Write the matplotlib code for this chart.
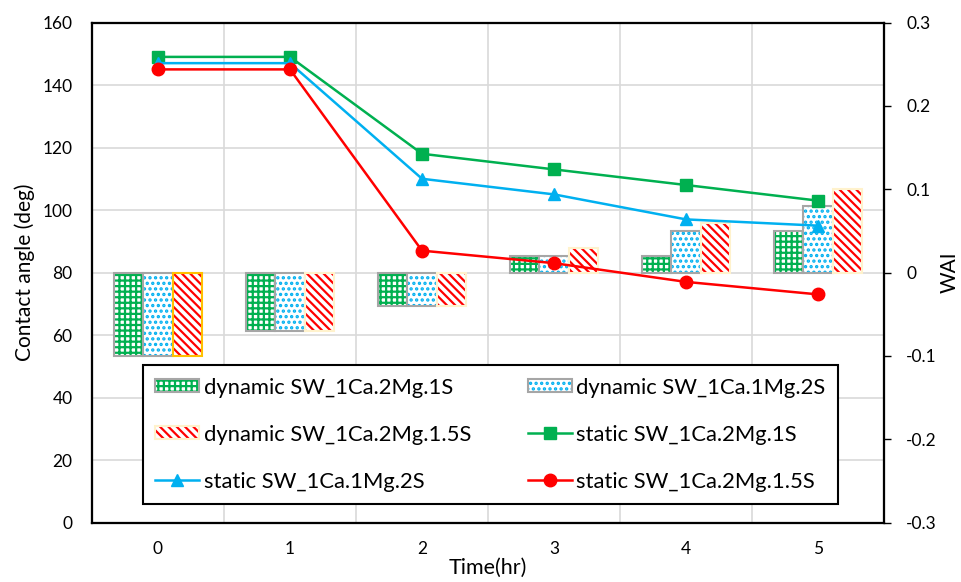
import numpy as np
import matplotlib
matplotlib.use("Agg")
import matplotlib.pyplot as plt
from matplotlib.patches import Patch
from matplotlib.lines import Line2D
from matplotlib.legend_handler import HandlerTuple

plt.rcParams['font.family'] = ['Lato', 'DejaVu Sans']
plt.rcParams['hatch.linewidth'] = 1.6

tiempo = [0, 1, 2, 3, 4, 5]
etiquetas_x = ['0', '1', '2', '3', '4', '5']

# WAI (eje derecho)
wai_1S = [-0.10, -0.07, -0.04, 0.02, 0.02, 0.05]
wai_2S = [-0.10, -0.07, -0.04, 0.02, 0.05, 0.08]
wai_15S = [-0.10, -0.07, -0.04, 0.03, 0.06, 0.10]

# angulo de contacto estatico (eje izquierdo)
est_1S = [149, 149, 118, 113, 108, 103]
est_2S = [147, 147, 110, 105, 97, 95]
est_15S = [145, 145, 87, 83, 77, 73]

verde = '#00B050'
azul = '#00B0F0'
rojo = '#FF0000'
gris = '#A6A6A6'

h_verde = '+++'
h_azul = '...'
h_rojo = '\\\\\\\\'

fig = plt.figure(figsize=(9.62, 5.82), dpi=100)
ax = fig.add_axes([0.0956, 0.1022, 0.8234, 0.8591])
ax2 = ax.twinx()
ax3 = ax.twinx()

# rejilla
ax.set_xlim(-0.5, 5.5)
ax.set_ylim(0, 160)
ax.set_yticks(np.arange(0, 161, 20))
ax.set_xticks(tiempo)
ax.set_xticklabels(etiquetas_x)
ax.set_xticks(np.arange(-0.5, 5.6, 1), minor=True)
ax.grid(True, which='minor', axis='x', color='#D9D9D9', lw=1.2)
ax.grid(True, which='major', axis='y', color='#D9D9D9', lw=1.2)
ax.tick_params(axis='both', which='both', length=0, labelsize=12.5)
ax.tick_params(axis='y', pad=14)
ax.tick_params(axis='x', pad=13)
ax.set_axisbelow(True)
ax.set_ylabel('Contact angle (deg)', fontsize=15, labelpad=5)
ax.set_xlabel('Time(hr)', fontsize=15.5, labelpad=1)

# barras WAI
w = 0.223
x = np.array(tiempo, dtype=float)
ax2.set_ylim(-0.3, 0.3)
ax2.set_yticks(np.arange(-0.3, 0.31, 0.1))
ax2.set_yticklabels(['-0.3', '-0.2', '-0.1', '0', '0.1', '0.2', '0.3'])
ax2.tick_params(axis='y', length=5, width=1, labelsize=12.5, pad=11)
ax2.set_ylabel('WAI', fontsize=15, labelpad=2)

ax2.bar(x - w, wai_1S, w, color='white', edgecolor=verde, hatch=h_verde, lw=0)
ax2.bar(x - w, wai_1S, w, fill=False, edgecolor=gris, lw=1.5)
ax2.bar(x, wai_2S, w, color='white', edgecolor=azul, hatch=h_azul, lw=0)
ax2.bar(x, wai_2S, w, fill=False, edgecolor=gris, lw=1.5)
ax2.bar(x + w, wai_15S, w, color='white', edgecolor=rojo, hatch=h_rojo, lw=0)
bordes_rojo = ['#FFC000'] + ['#FFF2CC'] * 5
ax2.bar(x + w, wai_15S, w, fill=False, edgecolor=bordes_rojo, lw=1.5)

# lineas estaticas
ax3.set_ylim(0, 160)
ax3.set_yticks([])
ax3.plot(tiempo, est_1S, color=verde, lw=1.8, marker='s', ms=8)
ax3.plot(tiempo, est_2S, color=azul, lw=1.8, marker='^', ms=9)
ax3.plot(tiempo, est_15S, color=rojo, lw=1.8, marker='o', ms=9)

for a in (ax, ax2, ax3):
    for s in a.spines.values():
        s.set_linewidth(1.5)
        s.set_color('black')

h1 = (Patch(facecolor='white', edgecolor=verde, hatch=h_verde, lw=0), Patch(fill=False, edgecolor=gris, lw=1.5))
h2 = (Patch(facecolor='white', edgecolor=azul, hatch=h_azul, lw=0), Patch(fill=False, edgecolor=gris, lw=1.5))
h3 = (Patch(facecolor='white', edgecolor=rojo, hatch=h_rojo, lw=0), Patch(fill=False, edgecolor='#FFF2CC', lw=1.5))
h4 = Line2D([], [], color=verde, lw=1.8, marker='s', ms=8)
h5 = Line2D([], [], color=azul, lw=1.8, marker='^', ms=9)
h6 = Line2D([], [], color=rojo, lw=1.8, marker='o', ms=9)

handles = [h1, h3, h5, h2, h4, h6]
labels = ['dynamic SW_1Ca.2Mg.1S', 'dynamic SW_1Ca.2Mg.1.5S', 'static SW_1Ca.1Mg.2S',
          'dynamic SW_1Ca.1Mg.2S', 'static SW_1Ca.2Mg.1S', 'static SW_1Ca.2Mg.1.5S']
leg = ax3.legend(handles, labels, ncol=2, loc='upper left',
                 bbox_to_anchor=(0.0644, 0.315, 0.8776, 0.0), mode='expand',
                 fontsize=15.8, labelspacing=1.23, handlelength=2.0, handleheight=0.55,
                 handletextpad=0.2, borderpad=0.57, borderaxespad=0, columnspacing=1.0,
                 fancybox=False, framealpha=1, edgecolor='black',
                 handler_map={tuple: HandlerTuple(ndivide=1, pad=0)})
leg.get_frame().set_linewidth(1.5)

fig.savefig('out.png', dpi=100)
